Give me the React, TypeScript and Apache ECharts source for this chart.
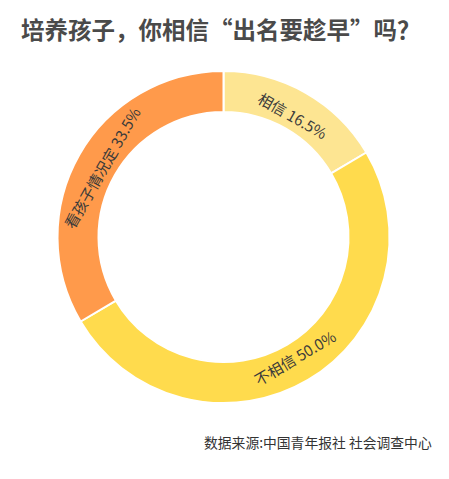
import React, { useEffect, useRef } from "react";
import * as echarts from "echarts";

const categories = ["相信", "不相信", "看孩子情况定"];
const shares = [16.5, 50.0, 33.5];
const colors = ["#FDE592", "#FFDB4D", "#FF9A4B"];

const titleText = "培养孩子，你相信“出名要趁早”吗？";
const sourceText = "数据来源:中国青年报社 社会调查中心";

export default function App() {
  const chartRef = useRef<HTMLDivElement>(null);

  useEffect(() => {
    const chart = echarts.init(chartRef.current!, undefined, { renderer: "svg" });
    const font = '"Noto Sans CJK SC", "Noto Sans", sans-serif';
    const data = categories.map((name, i) => ({ name, value: shares[i] }));

    chart.setOption({
      animation: false,
      backgroundColor: "#ffffff",
      title: {
        text: titleText,
        left: 16,
        top: 12,
        textStyle: {
          fontSize: 23.5,
          fontWeight: "bold",
          color: "#4a4a4a",
          fontFamily: font,
        },
      },
      graphic: [
        {
          type: "text",
          x: 204,
          y: 442,
          style: {
            text: sourceText,
            fontSize: 13.8,
            fontFamily: font,
            fill: "#333333",
            verticalAlign: "middle",
          },
        },
      ],
      series: [
        {
          type: "pie",
          center: [223.5, 237],
          radius: [125, 166],
          startAngle: 90,
          clockwise: true,
          silent: true,
          itemStyle: { borderColor: "#ffffff", borderWidth: 2 },
          label: { show: false },
          labelLine: { show: false },
          data: data.map((d, i) => ({ ...d, itemStyle: { color: colors[i] } })),
        },
        {
          // transparent ring that only carries the labels, a bit inside the middle
          type: "pie",
          center: [223.5, 237],
          radius: [125, 149],
          startAngle: 90,
          clockwise: true,
          silent: true,
          itemStyle: { color: "rgba(0,0,0,0)" },
          label: {
            show: true,
            position: "inside",
            rotate: "tangential",
            fontSize: 15,
            fontFamily: font,
            color: "#3a3a3a",
            formatter: (p: any) => `${p.name} ${p.value.toFixed(1)}%`,
          },
          labelLine: { show: false },
          data,
        },
      ],
    });

    return () => {
      chart.dispose();
    };
  }, []);

  return (
    <div
      ref={chartRef}
      style={{ position: "fixed", left: 0, top: 0, width: "449px", height: "479px" }}
    />
  );
}
